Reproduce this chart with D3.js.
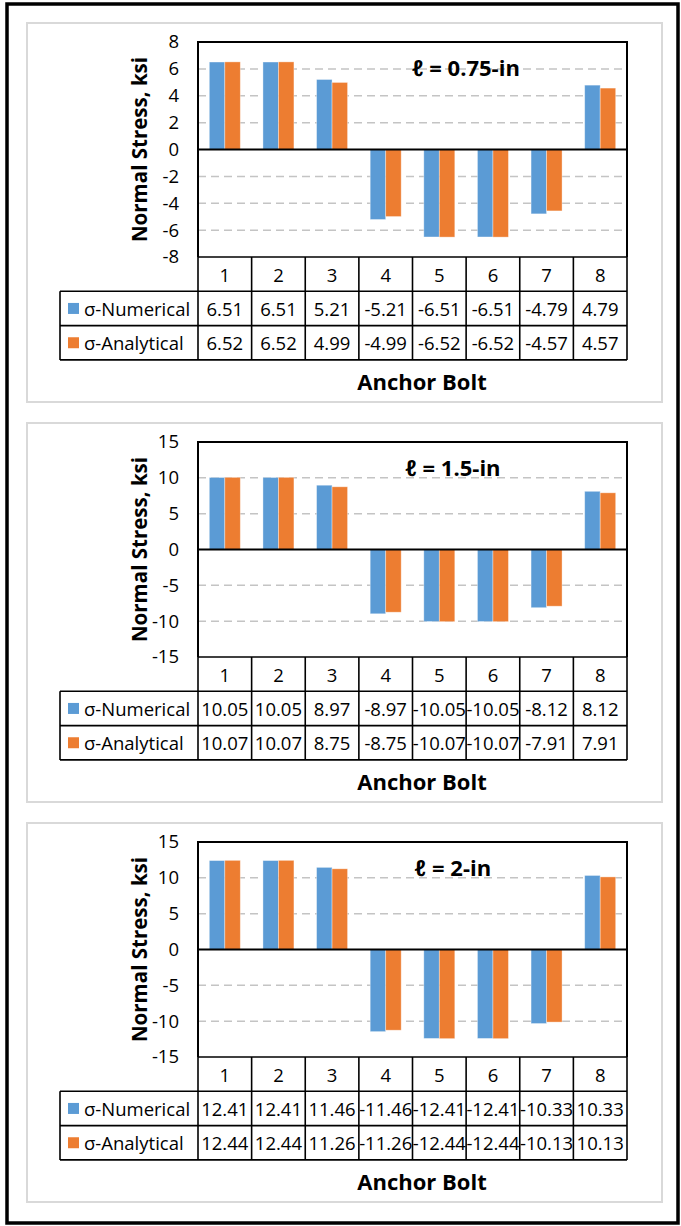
<!DOCTYPE html>
<html>
<head>
<meta charset="utf-8">
<script src="https://cdn.jsdelivr.net/npm/d3@7"></script>
<style>
  body { margin: 0; background: #fff; }
  svg { display: block; }
  text { font-family: "Open Sans", "Noto Sans", "DejaVu Sans", sans-serif; fill: #000; }
</style>
</head>
<body>
<script>
// Anchor bolt normal stresses (ksi) for three embedment lengths
const bolts = ["1", "2", "3", "4", "5", "6", "7", "8"];
const seriesNames = ["σ-Numerical", "σ-Analytical"];
const seriesColors = ["#5b9bd5", "#ed7d31"];
const lengthLabels = ["ℓ = 0.75-in", "ℓ = 1.5-in", "ℓ = 2-in"];

const numerical075 = [6.51, 6.51, 5.21, -5.21, -6.51, -6.51, -4.79, 4.79];
const analytical075 = [6.52, 6.52, 4.99, -4.99, -6.52, -6.52, -4.57, 4.57];
const numerical15 = [10.05, 10.05, 8.97, -8.97, -10.05, -10.05, -8.12, 8.12];
const analytical15 = [10.07, 10.07, 8.75, -8.75, -10.07, -10.07, -7.91, 7.91];
const numerical2 = [12.41, 12.41, 11.46, -11.46, -12.41, -12.41, -10.33, 10.33];
const analytical2 = [12.44, 12.44, 11.26, -11.26, -12.44, -12.44, -10.13, 10.13];

const yTicks075 = [-8, -6, -4, -2, 0, 2, 4, 6, 8];
const yTicks15 = [-15, -10, -5, 0, 5, 10, 15];
const yTicks2 = [-15, -10, -5, 0, 5, 10, 15];

const yTitle = "Normal Stress, ksi";
const xTitle = "Anchor Bolt";

const panels = [
  { label: lengthLabels[0], series: [numerical075, analytical075], ticks: yTicks075, labelX: 466 },
  { label: lengthLabels[1], series: [numerical15, analytical15], ticks: yTicks15, labelX: 453 },
  { label: lengthLabels[2], series: [numerical2, analytical2], ticks: yTicks2, labelX: 453 }
];

const W = 681, H = 1226;
const svg = d3.select("body").append("svg").attr("width", W).attr("height", H);

// outer frame
svg.append("rect").attr("x", 7).attr("y", 4).attr("width", 671).attr("height", 1219)
  .attr("fill", "none").attr("stroke", "#000").attr("stroke-width", 3.5);

const plotLeft = 198, plotRight = 627, tableLeft = 60;
const rowH = 34.3;
// plain hyphen-minus for negative numbers
const locale = d3.formatLocale({ decimal: ".", thousands: ",", grouping: [3], currency: ["", ""], minus: "-" });
const fmt = locale.format(".2f");
const fmtTick = locale.format("d");
const fs = 18.5;

panels.forEach((p, i) => {
  const top = 23 + i * 400;
  const g = svg.append("g");

  // chart area box
  g.append("rect").attr("x", 27).attr("y", top).attr("width", 635).attr("height", 379)
    .attr("fill", "#fff").attr("stroke", "#d9d9d9").attr("stroke-width", 2);

  const plotTop = top + 19, plotBottom = top + 234;
  const [yMin, yMax] = d3.extent(p.ticks);
  const y = d3.scaleLinear().domain([yMin, yMax]).range([plotBottom, plotTop]);
  const x = d3.scaleBand().domain(bolts).range([plotLeft, plotRight]).padding(0);
  const xs = d3.scaleBand().domain(seriesNames).range([0, x.bandwidth()])
    .paddingInner(0).paddingOuter(0.73);

  // dashed gridlines
  g.append("g").selectAll("line")
    .data(p.ticks.filter(t => t !== 0 && t !== yMin && t !== yMax))
    .join("line")
    .attr("x1", plotLeft).attr("x2", plotRight)
    .attr("y1", d => y(d)).attr("y2", d => y(d))
    .attr("stroke", "#c4c4c4").attr("stroke-width", 1.5)
    .attr("stroke-dasharray", "8,5");

  // y axis tick labels
  const yAxis = d3.axisLeft(y).tickValues(p.ticks).tickSize(0).tickPadding(19)
    .tickFormat(fmtTick);
  const ax = g.append("g").attr("transform", `translate(${plotLeft},0)`).call(yAxis);
  ax.select(".domain").remove();
  ax.selectAll("text").attr("font-size", fs).attr("font-family", null).attr("fill", "#000");

  // bars
  p.series.forEach((vals, s) => {
    g.append("g").selectAll("rect")
      .data(vals)
      .join("rect")
      .attr("x", (d, k) => x(bolts[k]) + xs(seriesNames[s]))
      .attr("width", xs.bandwidth())
      .attr("y", d => Math.min(y(d), y(0)))
      .attr("height", d => Math.abs(y(d) - y(0)))
      .attr("fill", seriesColors[s])
      .attr("stroke", "#fff").attr("stroke-opacity", 0.45).attr("stroke-width", 0.8);
  });

  // zero line
  g.append("line").attr("x1", plotLeft).attr("x2", plotRight)
    .attr("y1", y(0)).attr("y2", y(0)).attr("stroke", "#000").attr("stroke-width", 2);

  // plot border
  g.append("path")
    .attr("d", `M${plotLeft},${plotBottom}V${plotTop}H${plotRight}V${plotBottom}`)
    .attr("fill", "none").attr("stroke", "#000").attr("stroke-width", 2);

  // panel label
  g.append("text").attr("x", p.labelX).attr("y", top + 44)
    .attr("text-anchor", "middle").attr("dominant-baseline", "central")
    .attr("font-size", 22).attr("font-weight", "bold").text(p.label);

  // y axis title
  g.append("text")
    .attr("transform", `translate(139,${(plotTop + plotBottom) / 2}) rotate(-90)`)
    .attr("text-anchor", "middle").attr("dominant-baseline", "central")
    .attr("font-size", 20.5).attr("font-weight", "bold").text(yTitle);

  // data table
  const r0 = plotBottom, r1 = r0 + rowH, r2 = r1 + rowH, r3 = r2 + rowH;
  const tg = g.append("g");
  const lines = [
    [plotLeft, r0, plotRight, r0],
    [tableLeft, r1, plotRight, r1],
    [tableLeft, r2, plotRight, r2],
    [tableLeft, r3, plotRight, r3],
    [tableLeft, r1, tableLeft, r3]
  ];
  bolts.forEach(b => lines.push([x(b), r0, x(b), r3]));
  lines.push([plotRight, r0, plotRight, r3]);
  tg.selectAll("line").data(lines).join("line")
    .attr("x1", d => d[0]).attr("y1", d => d[1]).attr("x2", d => d[2]).attr("y2", d => d[3])
    .attr("stroke", "#000").attr("stroke-width", 1.6);

  // category labels
  tg.append("g").selectAll("text").data(bolts).join("text")
    .attr("x", d => x(d) + x.bandwidth() / 2).attr("y", (r0 + r1) / 2)
    .attr("text-anchor", "middle").attr("dominant-baseline", "central")
    .attr("font-size", fs).text(d => d);

  // series rows
  const rowMid = [(r1 + r2) / 2, (r2 + r3) / 2];
  p.series.forEach((vals, s) => {
    tg.append("rect").attr("x", 68).attr("y", rowMid[s] - 5.5)
      .attr("width", 11).attr("height", 11).attr("fill", seriesColors[s]);
    tg.append("text").attr("x", 84).attr("y", rowMid[s])
      .attr("dominant-baseline", "central").attr("font-size", fs).text(seriesNames[s]);
    tg.append("g").selectAll("text").data(vals).join("text")
      .attr("x", (d, k) => x(bolts[k]) + x.bandwidth() / 2).attr("y", rowMid[s])
      .attr("text-anchor", "middle").attr("dominant-baseline", "central")
      .attr("font-size", fs).text(d => fmt(d));
  });

  // x axis title
  g.append("text").attr("x", 422).attr("y", top + 358)
    .attr("text-anchor", "middle").attr("dominant-baseline", "central")
    .attr("font-size", 22).attr("font-weight", "bold").text(xTitle);
});
</script>
</body>
</html>
